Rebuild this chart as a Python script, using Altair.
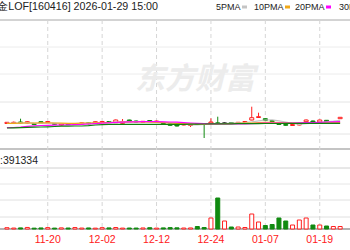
import altair as alt
import pandas as pd

# ---------------- data ----------------
dates = ["11-12","11-13","11-14","11-17","11-18","11-19","11-20","11-21","11-24","11-25",
         "11-26","11-27","11-28","12-01","12-02","12-03","12-04","12-05","12-08","12-09",
         "12-10","12-11","12-12","12-15","12-16","12-17","12-18","12-19","12-22","12-23",
         "12-24","12-25","12-26","12-29","12-30","12-31","01-05","01-06","01-07","01-08",
         "01-09","01-12","01-13","01-14","01-15","01-16","01-19","01-20","01-21","01-22"]

open_ = [1.4965,1.4970,1.4980,1.4970,1.4965,1.4983,1.4975,1.4965,1.4950,1.4963,
         1.4955,1.4962,1.4972,1.4970,1.4975,1.4985,1.4973,1.4967,1.5000,1.4990,
         1.4977,1.4995,1.4980,1.4975,1.4960,1.4950,1.4950,1.4945,1.4965,1.4963,
         1.4970,1.4972,1.4970,1.4975,1.4968,1.4975,1.5000,1.5025,1.5013,1.4995,
         1.4965,1.4955,1.4945,1.4950,1.4983,1.4990,1.4980,1.4997,1.4970,1.5013]
close = [1.4977,1.4977,1.4970,1.4983,1.4955,1.4970,1.4985,1.4957,1.4960,1.4955,
         1.4965,1.4972,1.4962,1.4983,1.4985,1.4975,1.5000,1.4983,1.4983,1.4980,
         1.4987,1.4987,1.4990,1.4965,1.4947,1.4940,1.4960,1.4955,1.4955,1.4955,
         1.4980,1.4965,1.4970,1.4968,1.4977,1.4985,1.5023,1.5033,1.4995,1.4985,
         1.4955,1.4947,1.4955,1.4960,1.5000,1.4980,1.5000,1.4980,1.4978,1.5027]
high = [1.4980,1.4985,1.5013,1.4990,1.4970,1.4987,1.4990,1.4970,1.4965,1.4967,
        1.4970,1.4975,1.4977,1.4987,1.4990,1.4990,1.5005,1.5010,1.5003,1.4995,
        1.4990,1.5000,1.4993,1.4980,1.4965,1.4955,1.4963,1.4957,1.4970,1.4967,
        1.5017,1.5033,1.4977,1.4980,1.4980,1.4988,1.5133,1.5073,1.5017,1.5000,
        1.4970,1.4960,1.4957,1.4963,1.5005,1.4995,1.5003,1.5000,1.4982,1.5030]
low = [1.4960,1.4965,1.4965,1.4965,1.4950,1.4965,1.4970,1.4952,1.4945,1.4950,
       1.4950,1.4958,1.4957,1.4965,1.4970,1.4970,1.4970,1.4963,1.4980,1.4975,
       1.4973,1.4983,1.4975,1.4960,1.4943,1.4935,1.4947,1.4930,1.4950,1.4820,
       1.4967,1.4960,1.4963,1.4965,1.4965,1.4972,1.4997,1.5023,1.4990,1.4980,
       1.4950,1.4943,1.4942,1.4947,1.4980,1.4977,1.4977,1.4977,1.4967,1.5010]

ma5 = [1.4967,1.4970,1.4972,1.4971,1.4968,1.4967,1.4970,1.4968,1.4965,1.4963,
       1.4964,1.4966,1.4968,1.4970,1.4974,1.4976,1.4980,1.4982,1.4984,1.4985,
       1.4984,1.4984,1.4984,1.4979,1.4972,1.4965,1.4958,1.4952,1.4952,1.4955,
       1.4960,1.4964,1.4967,1.4970,1.4972,1.4974,1.4982,1.4992,1.5000,1.5001,
       1.4992,1.4980,1.4967,1.4957,1.4963,1.4968,1.4976,1.4982,1.4988,1.4997]
ma10 = [1.4965,1.4967,1.4968,1.4970,1.4970,1.4972,1.4972,1.4970,1.4968,1.4967,
        1.4967,1.4968,1.4970,1.4972,1.4974,1.4975,1.4977,1.4978,1.4980,1.4980,
        1.4980,1.4978,1.4976,1.4973,1.4970,1.4967,1.4964,1.4962,1.4960,1.4959,
        1.4960,1.4960,1.4962,1.4964,1.4966,1.4968,1.4970,1.4974,1.4976,1.4977,
        1.4975,1.4972,1.4970,1.4968,1.4967,1.4968,1.4970,1.4972,1.4973,1.4975]
ma20 = [1.4923,1.4925,1.4930,1.4937,1.4942,1.4945,1.4947,1.4948,1.4950,1.4952,
        1.4954,1.4956,1.4960,1.4964,1.4968,1.4972,1.4976,1.4979,1.4981,1.4982,
        1.4983,1.4983,1.4983,1.4982,1.4980,1.4978,1.4974,1.4970,1.4967,1.4964,
        1.4962,1.4961,1.4960,1.4960,1.4961,1.4962,1.4964,1.4966,1.4968,1.4969,
        1.4970,1.4970,1.4970,1.4971,1.4973,1.4975,1.4977,1.4980,1.4982,1.4984]
ma30 = [1.4920,1.4922,1.4924,1.4926,1.4928,1.4930,1.4932,1.4935,1.4938,1.4939,
        1.4940,1.4940,1.4944,1.4950,1.4954,1.4956,1.4957,1.4957,1.4957,1.4957,
        1.4957,1.4957,1.4957,1.4957,1.4957,1.4957,1.4957,1.4958,1.4958,1.4960,
        1.4961,1.4961,1.4962,1.4962,1.4963,1.4963,1.4964,1.4964,1.4965,1.4965,
        1.4965,1.4966,1.4966,1.4966,1.4967,1.4967,1.4967,1.4967,1.4967,1.4967]

volume = [26000,19000,22000,31000,17000,21000,28000,18000,23000,20000,
          29000,19000,21000,17000,27000,22000,30000,18000,20000,19000,
          21000,26000,18000,22000,28000,24000,20000,21000,50000,30000,
          220000,620000,160000,40000,40000,30000,300000,140000,70000,90000,
          220000,160000,80000,180000,220000,80000,80000,60000,50000,50000]

tick_labels = ["11-20", "12-02", "12-12", "12-24", "01-07", "01-19"]
ma_names = ["5PMA", "10PMA", "20PMA", "30PMA"]
ma_colors = ["#c4c4c4", "#f0a818", "#ff00ff", "#108010"]

title_text = "石油基金LOF[160416] 2026-01-29 15:00"
vol_text = "成交量:391334"

# ---------------- styling ----------------
RED = "#ff2020"
GREEN = "#108a10"
FONT = "Liberation Sans"

n = len(dates)
df = pd.DataFrame({"i": list(range(n)), "date": dates, "open": open_, "close": close,
                   "high": high, "low": low, "ma5": ma5, "ma10": ma10, "ma20": ma20,
                   "ma30": ma30, "vol": volume})
df["dir"] = ["up" if c > o else ("down" if c < o else "flat") for o, c in zip(open_, close)]
df["vdir"] = ["down" if d == "down" else "up" for d in df["dir"]]

ticks = pd.DataFrame({"label": tick_labels, "i": [dates.index(t) for t in tick_labels]})

X = alt.Scale(domain=[-2 / 7, 348 / 7], nice=False, zero=False)
P = alt.Scale(domain=[1.471, 1.600], range=[149, 20], nice=False, zero=False)
V = alt.Scale(domain=[0, 1220000], range=[229, 168], nice=False)
DIR_STROKE = alt.Scale(domain=["up", "down", "flat"], range=[RED, GREEN, "#000000"])
DIR_FILL = alt.Scale(domain=["up", "down", "flat"], range=["#ffffff", GREEN, "#000000"])

x_enc = alt.X("i:Q", scale=X, axis=None)
one = pd.DataFrame({"k": [0]})


def hline(y, color, w=1):
    return alt.Chart(one).mark_rule(color=color, strokeWidth=w).encode(
        x=alt.value(0), x2=alt.value(350), y=alt.value(y))


layers = []

# horizontal frame / grid lines
for y, c, w in [(20, "#a8a8a8", 1), (47, "#ececec", 1), (74, "#ececec", 1),
                (102, "#e4e4e4", 1), (134, "#e4e4e4", 1), (149, "#c4c4c4", 2),
                (168, "#d0d0d0", 1), (184, "#e6e6e6", 1), (200, "#e0e0e0", 1),
                (217, "#e0e0e0", 1), (229, "#9a9a9a", 1.5)]:
    layers.append(hline(y, c, w))

# vertical dashed grid
layers.append(alt.Chart(ticks).mark_rule(color="#d6d6d6", strokeDash=[4, 3], strokeWidth=1).encode(
    x=x_enc, y=alt.value(20), y2=alt.value(229)))

# watermark
layers.append(alt.Chart(one).mark_text(text="东方财富", font="Noto Sans CJK SC", fontSize=30,
                                       fontWeight="bold", fontStyle="italic", color="#ececec",
                                       align="center", baseline="middle").encode(
    x=alt.value(195), y=alt.value(80)))

# candle wicks
layers.append(alt.Chart(df).mark_rule(strokeWidth=1).encode(
    x=x_enc, y=alt.Y("low:Q", scale=P, axis=None), y2="high:Q",
    color=alt.Color("dir:N", scale=DIR_STROKE, legend=None)))

# candle bodies
layers.append(alt.Chart(df).mark_bar(size=4, strokeWidth=1).encode(
    x=x_enc, y=alt.Y("open:Q", scale=P, axis=None), y2="close:Q",
    fill=alt.Fill("dir:N", scale=DIR_FILL, legend=None),
    stroke=alt.Stroke("dir:N", scale=DIR_STROKE, legend=None)))

# moving averages
for col, c in zip(["ma5", "ma10", "ma20", "ma30"], ma_colors):
    layers.append(alt.Chart(df).mark_line(strokeWidth=1.2, color=c).encode(
        x=x_enc, y=alt.Y(f"{col}:Q", scale=P, axis=None)))

# volume bars
layers.append(alt.Chart(df).mark_bar(size=4, strokeWidth=1).encode(
    x=x_enc, y=alt.Y("vol:Q", scale=V, axis=None),
    fill=alt.Fill("vdir:N", scale=DIR_FILL, legend=None),
    stroke=alt.Stroke("vdir:N", scale=DIR_STROKE, legend=None)))

# date labels
layers.append(alt.Chart(ticks).mark_text(font=FONT, fontSize=10.5, color=RED,
                                         align="center", baseline="middle").encode(
    x=x_enc, y=alt.value(240), text="label:N"))

# header text
layers.append(alt.Chart(one).mark_text(text=title_text, font=FONT, fontSize=10.7, color="#222222",
                                       align="right", baseline="middle").encode(
    x=alt.value(158), y=alt.value(7)))
layers.append(alt.Chart(one).mark_text(text=vol_text, font=FONT, fontSize=10.5, color="#222222",
                                       align="right", baseline="middle").encode(
    x=alt.value(38), y=alt.value(161)))

# MA legend
leg_x = [216, 254, 295, 339]
mark_x = [242, 285, 326]
for k, (name, c) in enumerate(zip(ma_names, ma_colors)):
    layers.append(alt.Chart(one).mark_text(text=name, font=FONT, fontSize=9, color="#222222",
                                           align="left", baseline="middle").encode(
        x=alt.value(leg_x[k]), y=alt.value(7)))
    if k < 3:
        layers.append(alt.Chart(one).mark_rule(color=c, strokeWidth=3).encode(
            x=alt.value(mark_x[k]), x2=alt.value(mark_x[k] + 5), y=alt.value(7)))

chart = alt.layer(*layers).resolve_scale(
    y="independent"
).properties(
    width=350, height=250, autosize=alt.AutoSizeParams(type="none"), padding=0,
    background="white"
).configure_view(stroke=None)

chart.save("out.html", embed_options={"renderer": "svg", "actions": False})
